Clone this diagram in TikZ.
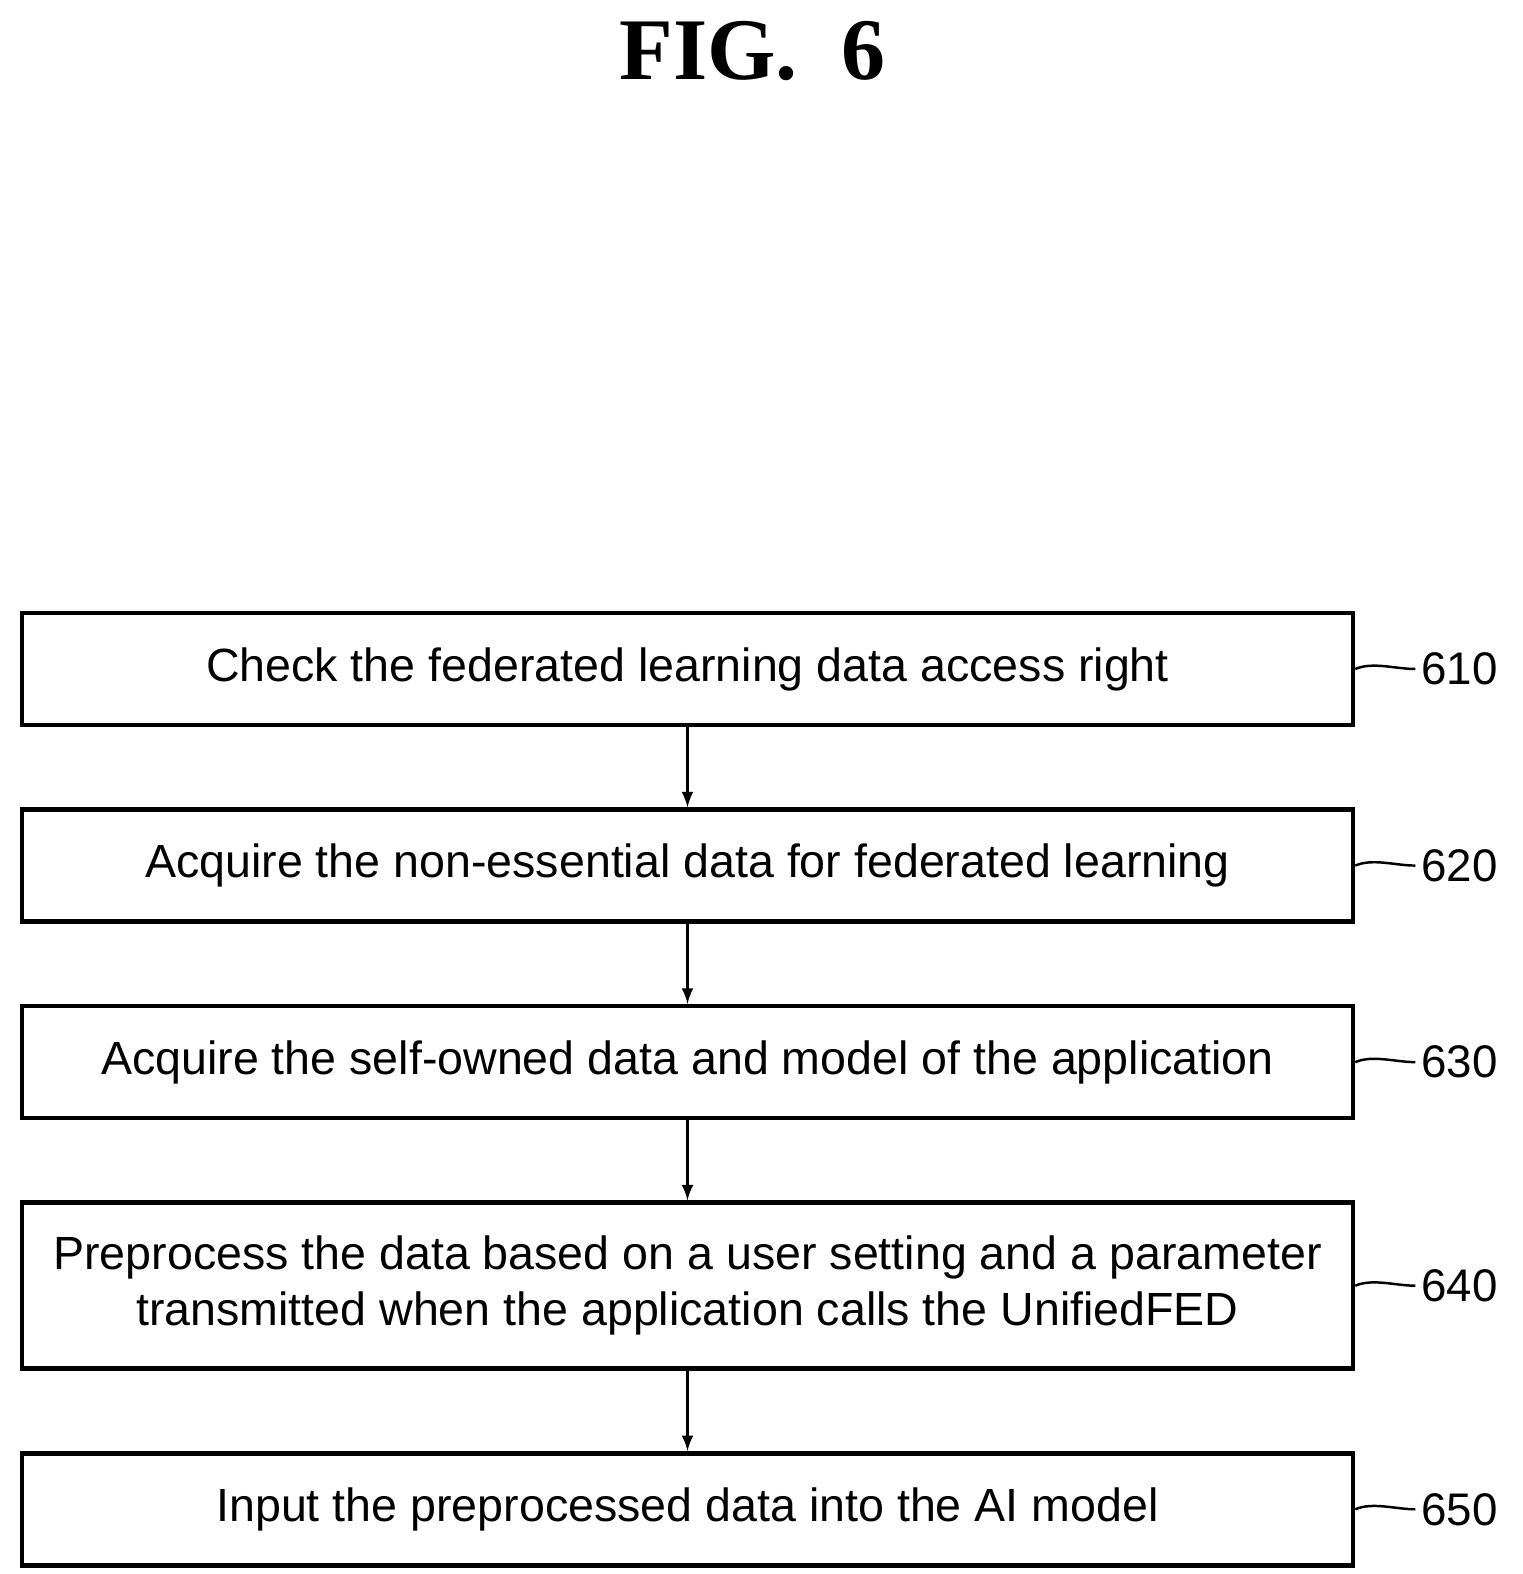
\documentclass[tikz,border=0pt]{standalone}
\usepackage{fontspec}
\setmainfont{Liberation Sans}
\usetikzlibrary{positioning}
\tikzset{
  stepbox/.style={draw,line width=2.6pt,minimum width=26.62cm,minimum height=2.24cm,align=center,
    font=\fontsize{26.5}{32}\selectfont},
  ref/.style={font=\fontsize{26}{30}\selectfont,anchor=west},
  flow/.style={line width=2pt,-latex}
}
\begin{document}
\begin{tikzpicture}
\useasboundingbox (0,0) rectangle (30.46,31.48);
\node (title) at (15.05,30.45) {\fontspec{Liberation Serif}\bfseries\fontsize{50}{54}\selectfont FIG.\ \ 6};

\node[stepbox] (s610) at (13.75,18.1) {Check the federated learning data access right};
\node[stepbox,below=1.6cm of s610] (s620) {Acquire the non-essential data for federated learning};
\node[stepbox,below=1.6cm of s620] (s630) {Acquire the self-owned data and model of the application};
\node[stepbox,below=1.6cm of s630,minimum height=3.32cm] (s640) {Preprocess the data based on a user setting and a parameter\\transmitted when the application calls the UnifiedFED};
\node[stepbox,below=1.6cm of s640] (s650) {Input the preprocessed data into the AI model};

% arrows between steps
\foreach \a/\b in {s610/s620,s620/s630,s630/s640,s640/s650}
  \draw[flow] (\a) -- (\b);

% reference numerals
\foreach \s/\n in {s610/610,s620/620,s630/630,s640/640,s650/650} {
  \node[ref,right=1.2cm of \s.east] (l\n) {\n};
  \draw[line width=1.4pt] (\s.east) .. controls +(0.35,0.15) and +(-0.4,0) .. (l\n.west);
}
\end{tikzpicture}
\end{document}
